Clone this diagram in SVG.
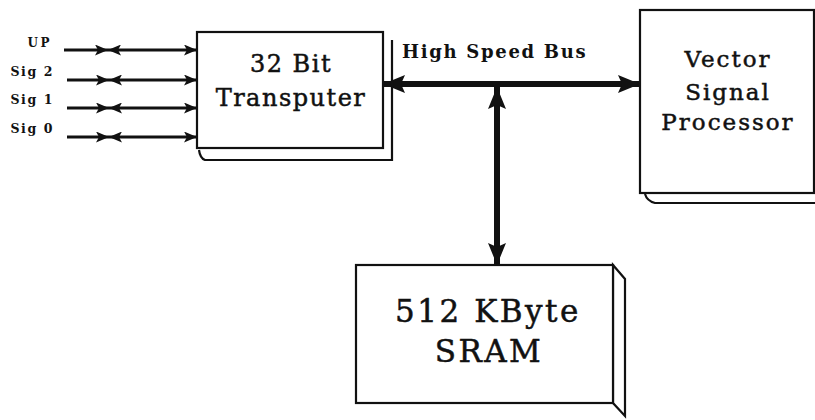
<svg xmlns="http://www.w3.org/2000/svg" width="815" height="420" viewBox="0 0 815 420">
<style>
.box{fill:#fff;stroke:#111;stroke-width:2.2}
.sh{fill:none;stroke:#111;stroke-width:2.2}
.t{font-family:"DejaVu Serif","Liberation Serif",serif;fill:#111;text-anchor:middle;stroke:#111;stroke-width:0.5}
.lbl{font-family:"DejaVu Serif","Liberation Serif",serif;font-weight:bold;fill:#111}
.sig{stroke:#111;stroke-width:3.2;fill:none}
.bus{stroke:#111;stroke-width:6;fill:none}
</style>
<defs>
<marker id="sa" viewBox="0 0 13 11" refX="13" refY="5.5" markerWidth="13" markerHeight="11" markerUnits="userSpaceOnUse" orient="auto-start-reverse">
<path d="M0,0 L13,5.5 L0,11 L3,5.5 Z" fill="#111"/>
</marker>
<marker id="ba" viewBox="0 0 22 18" refX="22" refY="9" markerWidth="22" markerHeight="18" markerUnits="userSpaceOnUse" orient="auto-start-reverse">
<path d="M0,0 L22,9 L0,18 L4,9 Z" fill="#111"/>
</marker>
</defs>

<g id="labels">
<text class="lbl" x="52" y="47" font-size="12" letter-spacing="2.5" text-anchor="end">UP</text>
<text class="lbl" x="54" y="76" font-size="12.5" letter-spacing="1.6" text-anchor="end">Sig 2</text>
<text class="lbl" x="54" y="104" font-size="12.5" letter-spacing="1.6" text-anchor="end">Sig 1</text>
<text class="lbl" x="54" y="133" font-size="12.5" letter-spacing="1.6" text-anchor="end">Sig 0</text>
<text class="lbl" x="402" y="58" font-size="18" letter-spacing="1.7">High Speed Bus</text>
</g>

<g id="connectors">
<path class="sig" d="M64,50 L108,50" marker-end="url(#sa)"/>
<path class="sig" d="M108,50 L197,50" marker-start="url(#sa)" marker-end="url(#sa)"/>
<path class="sig" d="M67,80 L109,80" marker-end="url(#sa)"/>
<path class="sig" d="M109,80 L197,80" marker-start="url(#sa)" marker-end="url(#sa)"/>
<path class="sig" d="M67,108 L109,108" marker-end="url(#sa)"/>
<path class="sig" d="M109,108 L197,108" marker-start="url(#sa)" marker-end="url(#sa)"/>
<path class="sig" d="M67,137 L109,137" marker-end="url(#sa)"/>
<path class="sig" d="M109,137 L197,137" marker-start="url(#sa)" marker-end="url(#sa)"/>
<path class="bus" d="M383,84 L640,84" marker-start="url(#ba)" marker-end="url(#ba)"/>
<path class="bus" d="M497,87 L497,265" marker-start="url(#ba)" marker-end="url(#ba)"/>
</g>

<g id="transputer">
<path class="sh" d="M392,40 L392,160 L205,160 Q200,158 199,150"/>
<rect class="box" x="197" y="32" width="186" height="116"/>
<text class="t" x="291" y="72" font-size="24" letter-spacing="1.5">32 Bit</text>
<text class="t" x="291" y="106" font-size="24" letter-spacing="1.5">Transputer</text>
</g>

<g id="vsp">
<path class="sh" d="M815,203 L655,203 Q647,201 645,194"/>
<rect class="box" x="640" y="10" width="174" height="183"/>
<text class="t" x="728" y="67" font-size="23" letter-spacing="2">Vector</text>
<text class="t" x="728" y="100" font-size="23" letter-spacing="2">Signal</text>
<text class="t" x="728" y="130" font-size="23" letter-spacing="2">Processor</text>
</g>

<g id="sram">
<path class="box" d="M613,265 L625,279 L625,416 L613,403 Z"/>
<rect class="box" x="356" y="265" width="257" height="138"/>
<text class="t" x="488" y="322" font-size="31" letter-spacing="2.5">512 KByte</text>
<text class="t" x="489" y="362" font-size="31" letter-spacing="2.5">SRAM</text>
</g>
</svg>
